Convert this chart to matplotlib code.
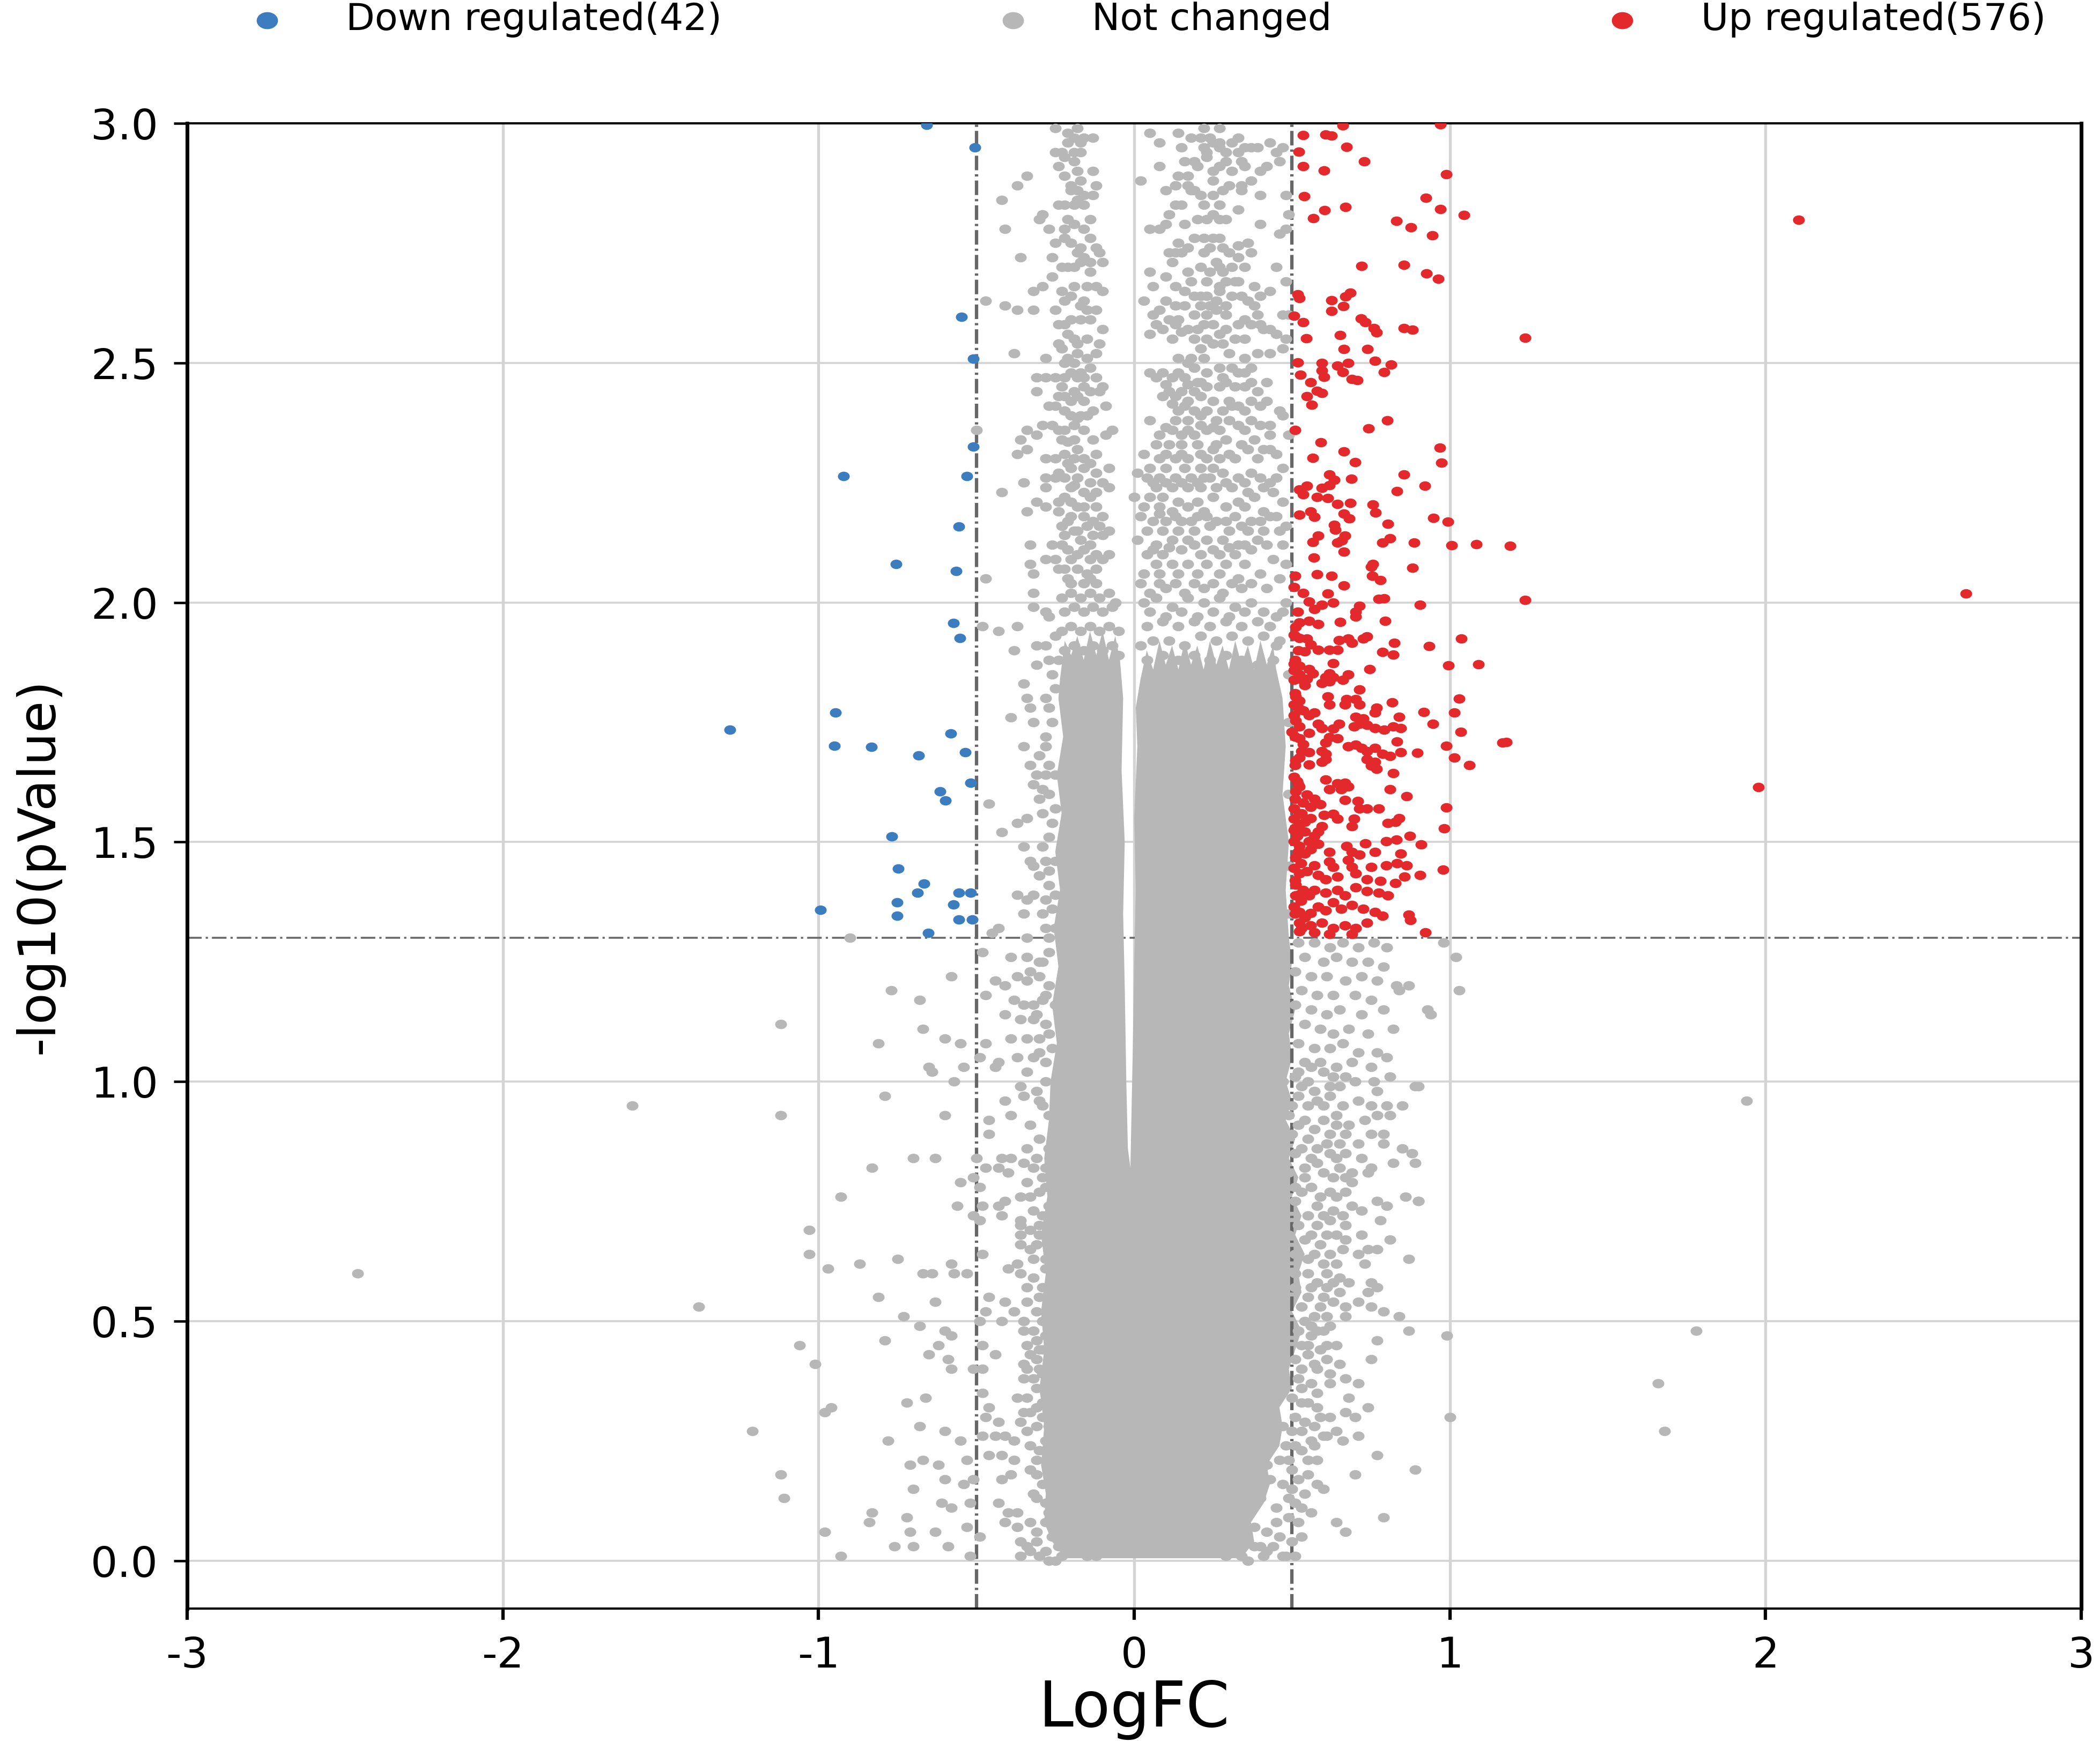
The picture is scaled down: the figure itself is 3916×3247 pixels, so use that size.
import numpy as np
import matplotlib
matplotlib.use("Agg")
import matplotlib.pyplot as plt
from matplotlib.path import Path
from matplotlib.transforms import Affine2D
from matplotlib.markers import MarkerStyle

plt.rcParams['font.family'] = ['DejaVu Sans']
plt.rcParams['axes.unicode_minus'] = False
plt.rcParams['lines.scale_dashes'] = False

# ---------------- data ----------------
x_ticks = [-3, -2, -1, 0, 1, 2, 3]
x_tick_labels = ['-3', '-2', '-1', '0', '1', '2', '3']
y_ticks = [0.0, 0.5, 1.0, 1.5, 2.0, 2.5, 3.0]
y_tick_labels = ['0.0', '0.5', '1.0', '1.5', '2.0', '2.5', '3.0']
fc_cut = [-0.5, 0.5]
p_cut = 1.3
legend_labels = ['Down regulated(42)', 'Not changed', 'Up regulated(576)']

down_pts = [(-0.658,2.997),(-0.505,2.950),(-0.547,2.596),(-0.509,2.509),(-0.509,2.325),(-0.921,2.264),
 (-0.530,2.264),(-0.556,2.158),(-0.755,2.080),(-0.564,2.066),(-0.573,1.957),(-0.552,1.926),(-1.281,1.734),
 (-0.946,1.770),(-0.950,1.701),(-0.832,1.698),(-0.581,1.726),(-0.535,1.687),(-0.683,1.681),(-0.518,1.623),
 (-0.615,1.606),(-0.598,1.586),(-0.768,1.511),(-0.747,1.444),(-0.666,1.413),(-0.687,1.394),(-0.556,1.394),
 (-0.518,1.394),(-0.751,1.374),(-0.573,1.369),(-0.993,1.358),(-0.751,1.346),(-0.556,1.338),(-0.513,1.338),
 (-0.653,1.310)]

up_pts = [(0.661,2.995),(0.970,2.998),(0.535,2.975),(0.607,2.977),(0.625,2.974),(0.672,2.951),(0.521,2.941),
 (0.729,2.921),(0.535,2.911),(0.601,2.902),(0.988,2.894),(0.539,2.848),(0.924,2.844),(0.670,2.825),(0.603,2.819),
 (0.970,2.821),(1.045,2.809),(0.568,2.802),(0.830,2.796),(0.876,2.783),(0.944,2.766),(0.721,2.702),(0.854,2.704),
 (0.925,2.687),(0.964,2.675),(0.518,2.643),(0.523,2.635),(0.625,2.631),(0.670,2.639),(0.684,2.646),(0.663,2.618),
 (0.625,2.608),(0.506,2.598),(0.718,2.593),(0.732,2.585),(0.760,2.573),(0.768,2.564),(0.535,2.585),(0.855,2.573),
 (0.881,2.569),(1.239,2.552),(0.545,2.551),(0.653,2.558),(0.664,2.529),(0.739,2.529),(0.518,2.501),(0.595,2.500),
 (0.643,2.494),(0.678,2.500),(0.762,2.504),(0.813,2.496),(0.661,2.481),(0.792,2.481),(0.595,2.484),(0.527,2.475),
 (0.601,2.471),(0.559,2.460),(0.690,2.466),(0.706,2.464),(0.547,2.430),(0.580,2.441),(0.595,2.437),(0.563,2.412),
 (0.801,2.380),(0.742,2.363),(0.509,2.360),(0.592,2.334),(0.968,2.323),(0.665,2.315),(0.565,2.302),(0.700,2.293),
 (0.973,2.292),(0.619,2.267),(0.854,2.267),(0.634,2.256),(0.688,2.258),(0.523,2.236),(0.547,2.243),(0.595,2.239),
 (0.619,2.245),(0.535,2.225),(0.580,2.220),(0.613,2.218),(0.833,2.232),(0.920,2.244),(0.643,2.205),(0.684,2.208),
 (0.756,2.204),(0.765,2.188),(0.523,2.183),(0.559,2.190),(0.571,2.179),(0.664,2.185),(0.681,2.175),(0.948,2.176),
 (0.994,2.168),(0.804,2.164),(0.633,2.162),(0.637,2.152),(0.583,2.139),(0.667,2.139),(0.658,2.129),(0.643,2.125),
 (0.565,2.126),(0.786,2.125),(0.810,2.134),(0.887,2.125),(1.006,2.119),(1.084,2.122),(1.191,2.118),
 (0.664,2.106),(0.569,2.094),(0.756,2.080),(0.750,2.074),(0.881,2.072),(0.509,2.055),(0.580,2.059),(0.625,2.055),
 (0.754,2.056),(0.780,2.046),(0.664,2.035),(0.506,2.032),(0.535,2.020),(0.613,2.018),(1.239,2.005),(0.774,2.007),
 (0.792,2.009),(0.553,2.002),(0.631,2.000),(0.595,1.995),(0.714,1.993),(0.905,1.995),(0.571,1.986),(0.518,1.981),
 (0.702,1.981),(0.702,1.970),(0.652,1.959),(0.795,1.961),(0.523,1.958),(0.553,1.961),(0.583,1.955),(0.512,1.949),
 (0.506,1.932),(0.523,1.926),(0.547,1.924),(0.559,1.912),(0.649,1.921),(0.678,1.924),(0.690,1.915),(0.726,1.924),
 (0.738,1.929),(0.824,1.915),(1.036,1.924),(0.935,1.909),(0.541,1.898),(0.583,1.901),(0.619,1.901),(0.643,1.901),
 (0.786,1.896),(0.820,1.891),(0.631,1.873),(0.506,1.872),(0.523,1.867),(0.995,1.868),(1.090,1.871),(0.553,1.861),
 (0.565,1.852),(0.746,1.861),(0.506,1.858),(0.523,1.850),(0.619,1.852),(0.607,1.844),(0.631,1.844),(0.678,1.850),
 (0.661,1.838),(0.506,1.838),(0.541,1.827),(0.547,1.841),(0.595,1.832),(0.619,1.835),(0.714,1.818),(0.512,1.804),
 (0.523,1.795),(0.506,1.787),(0.613,1.804),(0.619,1.787),(0.672,1.798),(0.667,1.787),(0.702,1.798),(0.714,1.787),
 (1.030,1.799),(0.817,1.791),(0.535,1.775),(0.553,1.764),(0.571,1.770),(0.768,1.780),(0.762,1.770),(0.917,1.771),
 (1.014,1.770),(0.506,1.764),(0.512,1.753),(0.523,1.741),(0.839,1.761),(0.702,1.761),(0.726,1.758),(0.714,1.747),
 (0.738,1.744),(0.696,1.741),(0.583,1.747),(0.595,1.738),(0.649,1.747),(0.631,1.736),(0.947,1.747),(0.762,1.738),
 (0.792,1.734),(0.821,1.741),(0.845,1.738),(0.500,1.730),(0.523,1.716),(0.553,1.727),(1.034,1.730),(0.619,1.719),
 (0.643,1.716),(0.607,1.707),(0.833,1.710),(1.167,1.707),(1.179,1.708),(0.535,1.704),(0.678,1.700),(0.702,1.703),
 (0.720,1.696),(0.988,1.701),(0.553,1.687),(0.595,1.690),(0.607,1.684),(0.738,1.690),(0.762,1.696),(0.786,1.684),
 (0.810,1.679),(0.845,1.687),(0.897,1.686),(0.523,1.676),(0.512,1.670),(0.607,1.673),(0.595,1.667),(0.738,1.673),
 (0.762,1.667),(0.750,1.659),(1.014,1.676),(0.553,1.662),(1.062,1.660),(0.768,1.653),(0.821,1.644),(0.506,1.636),
 (0.517,1.627),(0.523,1.616),(0.512,1.605),(0.607,1.630),(0.643,1.622),(0.667,1.624),(0.678,1.616),(0.619,1.610),
 (0.655,1.610),(0.810,1.610),(0.863,1.596),(0.547,1.599),(0.571,1.590),(0.535,1.582),(0.559,1.573),(0.667,1.588),
 (0.708,1.585),(0.589,1.579),(0.714,1.570),(0.738,1.570),(0.774,1.570),(0.988,1.572),(0.506,1.570),(0.523,1.559),
 (0.506,1.548),(0.523,1.536),(0.541,1.542),(0.559,1.550),(0.601,1.556),(0.631,1.559),(0.643,1.548),(0.696,1.548),
 (0.690,1.533),(0.804,1.539),(0.827,1.542),(0.839,1.550),(0.982,1.528),(0.595,1.533),(0.583,1.522),(0.571,1.513),
 (0.541,1.522),(0.506,1.525),(0.517,1.513),(0.506,1.502),(0.523,1.491),(0.553,1.502),(0.583,1.496),(0.559,1.485),
 (0.541,1.476),(0.732,1.497),(0.798,1.502),(0.831,1.505),(0.873,1.513),(0.909,1.495),(0.619,1.479),(0.672,1.491),
 (0.690,1.479),(0.714,1.474),(0.762,1.479),(0.845,1.476),(0.512,1.468),(0.529,1.456),(0.506,1.445),(0.523,1.434),
 (0.547,1.439),(0.571,1.451),(0.619,1.459),(0.631,1.448),(0.678,1.462),(0.690,1.448),(0.750,1.448),(0.798,1.451),
 (0.833,1.456),(0.863,1.451),(0.979,1.442),(0.905,1.431),(0.583,1.431),(0.607,1.422),(0.643,1.428),(0.702,1.434),
 (0.738,1.422),(0.780,1.419),(0.827,1.414),(0.857,1.428),(0.512,1.411),(0.535,1.400),(0.512,1.388),(0.529,1.377),
 (0.553,1.388),(0.571,1.400),(0.607,1.394),(0.643,1.400),(0.667,1.388),(0.702,1.405),(0.738,1.397),(0.774,1.394),
 (0.804,1.388),(0.506,1.365),(0.523,1.354),(0.541,1.343),(0.559,1.351),(0.583,1.365),(0.607,1.357),(0.631,1.374),
 (0.655,1.360),(0.690,1.368),(0.726,1.360),(0.762,1.354),(0.786,1.346),(0.869,1.348),(0.875,1.337),(0.523,1.331),
 (0.559,1.326),(0.595,1.331),(0.631,1.320),(0.667,1.326),(0.702,1.320),(0.523,1.314),(0.571,1.311),(0.619,1.308),
 (0.690,1.308),(0.738,1.331),(0.923,1.311),
 (2.104,2.799),(2.635,2.018),(1.977,1.614),
 (0.51,1.93),(0.52,1.90),(0.51,1.88),(0.53,1.84),(0.51,1.81),(0.52,1.78),(0.51,1.72),(0.53,1.69),(0.51,1.66),
 (0.52,1.62),(0.51,1.59),(0.53,1.56),(0.51,1.53),(0.52,1.48),(0.51,1.42),(0.52,1.39),(0.51,1.35),(0.53,1.32)]

# fully overlapped centre of the "Not changed" cloud (outline)
core_x = [-0.22, 0.34, 0.38, 0.37, 0.41, 0.43, 0.42, 0.46, 0.47, 0.46, 0.50, 0.49, 0.51, 0.53, 0.50, 0.53,
          0.52, 0.54, 0.51, 0.53, 0.50, 0.52, 0.49, 0.51, 0.48, 0.50, 0.48, 0.50, 0.49, 0.51, 0.49, 0.50,
          0.49, 0.48, 0.49, 0.47, 0.48, 0.47, 0.45,
          0.44, 0.42, 0.40, 0.38, 0.36, 0.34, 0.32, 0.30, 0.28, 0.26, 0.24, 0.22, 0.20, 0.18, 0.16, 0.14,
          0.12, 0.10, 0.08, 0.06, 0.04, 0.02,
          0.005, 0.01, 0.0, 0.005, 0.0, -0.005, -0.012,
          -0.02, -0.025, -0.03, -0.035, -0.03, -0.04, -0.035, -0.045,
          -0.06, -0.08, -0.10, -0.12, -0.14, -0.16, -0.18, -0.20, -0.22,
          -0.235, -0.24, -0.225, -0.245, -0.23, -0.25, -0.235, -0.255, -0.24, -0.26, -0.245, -0.265,
          -0.27, -0.285, -0.275, -0.295, -0.28, -0.295, -0.285, -0.30, -0.285, -0.295, -0.28, -0.285, -0.26]
core_y = [0.005, 0.005, 0.04, 0.08, 0.12, 0.16, 0.20, 0.24, 0.28, 0.32, 0.36, 0.40, 0.44, 0.48, 0.52, 0.56,
          0.60, 0.64, 0.68, 0.72, 0.76, 0.80, 0.84, 0.88, 0.92, 0.96, 1.00, 1.05, 1.10, 1.15, 1.20, 1.25,
          1.30, 1.40, 1.50, 1.60, 1.70, 1.80, 1.86,
          1.91, 1.87, 1.92, 1.86, 1.91, 1.87, 1.92, 1.86, 1.91, 1.87, 1.92, 1.86, 1.91, 1.87, 1.92, 1.86,
          1.91, 1.87, 1.92, 1.86, 1.90, 1.84,
          1.78, 1.70, 1.55, 1.40, 1.25, 1.05, 0.82,
          0.86, 1.00, 1.20, 1.35, 1.50, 1.65, 1.80, 1.88,
          1.93, 1.88, 1.94, 1.89, 1.94, 1.88, 1.93, 1.89, 1.92,
          1.84, 1.80, 1.72, 1.64, 1.56, 1.48, 1.40, 1.32, 1.24, 1.16, 1.08, 1.00,
          0.92, 0.84, 0.76, 0.68, 0.60, 0.52, 0.44, 0.36, 0.28, 0.20, 0.14, 0.08, 0.04]

gray_upper_left = [(-0.25,2.99),(-0.18,2.99),(-0.21,2.98),(-0.19,2.97),(-0.16,2.97),(-0.13,2.97),(-0.17,2.96),
 (-0.21,2.96),(-0.25,2.94),(-0.23,2.94),(-0.19,2.94),(-0.17,2.94),(-0.22,2.93),(-0.24,2.91),(-0.19,2.92),(-0.18,2.90),
 (-0.13,2.90),(-0.34,2.89),(-0.37,2.87),(-0.20,2.87),(-0.18,2.86),(-0.16,2.85),(-0.12,2.87),(-0.13,2.85),(-0.20,2.86),
 (-0.42,2.84),(-0.24,2.83),(-0.22,2.83),(-0.19,2.83),(-0.16,2.83),(-0.18,2.84),(-0.29,2.81),(-0.30,2.80),(-0.14,2.80),
 (-0.41,2.78),(-0.27,2.78),(-0.22,2.78),(-0.19,2.79),(-0.16,2.78),(-0.22,2.76),(-0.25,2.75),(-0.20,2.75),(-0.17,2.74),
 (-0.14,2.76),(-0.12,2.74),(-0.36,2.72),(-0.26,2.72),(-0.18,2.73),(-0.16,2.72),(-0.11,2.73),(-0.10,2.71),(-0.23,2.70),
 (-0.21,2.70),(-0.17,2.71),(-0.14,2.69),(-0.26,2.68),(-0.32,2.65),(-0.29,2.66),(-0.23,2.65),(-0.19,2.66),(-0.15,2.66),
 (-0.12,2.66),(-0.10,2.65),(-0.47,2.63),(-0.41,2.62),(-0.37,2.61),(-0.32,2.61),(-0.25,2.61),(-0.22,2.63),(-0.20,2.64),
 (-0.17,2.62),(-0.15,2.61),(-0.12,2.61),(-0.24,2.58),(-0.20,2.59),(-0.17,2.59),(-0.14,2.59),(-0.10,2.57),(-0.21,2.56),
 (-0.24,2.54),(-0.18,2.54),(-0.15,2.55),(-0.11,2.54),(-0.38,2.52),(-0.28,2.51),(-0.23,2.53),(-0.21,2.51),(-0.18,2.52),
 (-0.12,2.52),(-0.22,2.50),(-0.19,2.50),(-0.17,2.48),(-0.14,2.49),(-0.31,2.47),(-0.28,2.47),(-0.25,2.47),(-0.22,2.47),
 (-0.18,2.47),(-0.12,2.47),(-0.23,2.45),(-0.16,2.45),(-0.10,2.45),(-0.31,2.44),(-0.22,2.43),(-0.18,2.43),(-0.14,2.44),
 (-0.11,2.44),(-0.20,2.42),(-0.16,2.42),(-0.27,2.41),(-0.25,2.41),(-0.09,2.41),(-0.13,2.40),(-0.17,2.39),(-0.20,2.39),
 (-0.29,2.37),(-0.26,2.37),(-0.22,2.36),(-0.19,2.37),(-0.16,2.36),(-0.34,2.36),(-0.36,2.34),(-0.31,2.35),(-0.23,2.34),
 (-0.19,2.34),(-0.09,2.35),(-0.07,2.36),(-0.37,2.31),(-0.34,2.32),(-0.28,2.30),(-0.25,2.30),(-0.22,2.31),(-0.19,2.30),
 (-0.16,2.30),(-0.12,2.31),(-0.20,2.28),(-0.16,2.28),(-0.08,2.28),(-0.28,2.26),(-0.25,2.26),(-0.22,2.26),(-0.18,2.26),
 (-0.14,2.25),(-0.10,2.25),(-0.42,2.23),(-0.35,2.25),(-0.28,2.24),(-0.20,2.24),(-0.16,2.23),(-0.12,2.23),(-0.08,2.24),
 (-0.31,2.21),(-0.28,2.20),(-0.24,2.21),(-0.20,2.21),(-0.16,2.20),(-0.12,2.20),(-0.34,2.19),(-0.24,2.19),(-0.20,2.18),
 (-0.16,2.18),(-0.10,2.18),(-0.23,2.16),(-0.19,2.15),(-0.15,2.16),(-0.11,2.16),(-0.08,2.15),(-0.22,2.14),(-0.17,2.13),
 (-0.13,2.14),(-0.10,2.14),(-0.33,2.12),(-0.26,2.12),(-0.21,2.11),(-0.16,2.11),(-0.12,2.10),(-0.08,2.10),(-0.28,2.09),
 (-0.25,2.09),(-0.20,2.09),(-0.14,2.09),(-0.10,2.09),(-0.33,2.08),(-0.32,2.06),(-0.22,2.07),(-0.18,2.07),(-0.15,2.06),
 (-0.12,2.07),(-0.47,2.05),(-0.20,2.04),(-0.16,2.04),(-0.12,2.04),(-0.50,2.36),
 (-0.21,2.05),(-0.14,2.05),(-0.24,2.07),(-0.18,2.10),(-0.23,2.12),(-0.14,2.12),(-0.18,2.15),(-0.21,2.17),(-0.13,2.17),
 (-0.18,2.20),(-0.22,2.22),(-0.14,2.22),(-0.19,2.245),(-0.24,2.27),(-0.12,2.27),(-0.21,2.29),(-0.14,2.29),(-0.18,2.32),
 (-0.21,2.335),(-0.13,2.34),(-0.24,2.36),(-0.18,2.385),(-0.22,2.40),(-0.15,2.39),(-0.19,2.44),(-0.24,2.43),(-0.16,2.47),
 (-0.20,2.48),(-0.15,2.51),(-0.19,2.55),(-0.22,2.58),(-0.16,2.63),(-0.19,2.70),(-0.14,2.71),(-0.21,2.80),(-0.17,2.88),
 (-0.22,2.89),
 (-0.22,1.90),(-0.19,1.91),(-0.16,1.90),(-0.13,1.91),(-0.10,1.90),(-0.07,1.91),(-0.05,1.89),(-0.23,1.94),(-0.20,1.95),
 (-0.17,1.94),(-0.14,1.95),(-0.11,1.94),(-0.08,1.95),(-0.05,1.94),(-0.22,1.98),(-0.19,1.99),(-0.16,1.98),(-0.13,1.99),
 (-0.10,1.98),(-0.07,1.99),(-0.23,2.01),(-0.20,2.02),(-0.17,2.01),(-0.14,2.02),(-0.11,2.01),(-0.08,2.02),(-0.06,2.00)]

gray_upper_right = [(0.05,2.98),(0.08,2.96),(0.14,2.98),(0.22,2.99),(0.27,2.99),(0.21,2.97),(0.24,2.97),(0.27,2.96),
 (0.31,2.96),(0.35,2.95),(0.37,2.95),(0.39,2.95),(0.43,2.96),(0.47,2.95),(0.45,2.94),(0.15,2.95),(0.22,2.95),(0.27,2.95),
 (0.23,2.94),(0.29,2.94),(0.33,2.94),(0.16,2.92),(0.19,2.92),(0.23,2.93),(0.34,2.92),(0.42,2.91),(0.46,2.92),(0.35,2.91),
 (0.08,2.91),(0.25,2.90),(0.27,2.91),(0.31,2.90),(0.40,2.90),(0.14,2.89),(0.17,2.89),(0.02,2.88),(0.13,2.87),(0.17,2.87),
 (0.25,2.88),(0.34,2.87),(0.18,2.86),(0.28,2.86),(0.34,2.86),(0.10,2.86),(0.21,2.85),(0.40,2.85),(0.48,2.85),(0.25,2.85),
 (0.13,2.83),(0.15,2.83),(0.22,2.83),(0.27,2.83),(0.11,2.81),(0.16,2.79),(0.23,2.80),(0.27,2.80),(0.29,2.80),(0.49,2.81),
 (0.05,2.78),(0.08,2.78),(0.10,2.79),(0.40,2.79),(0.46,2.77),(0.48,2.78),(0.14,2.75),(0.19,2.76),(0.22,2.76),(0.25,2.76),
 (0.27,2.76),(0.36,2.75),(0.11,2.73),(0.13,2.73),(0.15,2.73),(0.22,2.73),(0.28,2.74),(0.30,2.73),(0.37,2.73),(0.12,2.71),
 (0.26,2.71),(0.33,2.72),(0.35,2.70),(0.05,2.69),(0.10,2.68),(0.24,2.69),(0.27,2.70),(0.28,2.69),(0.29,2.67),(0.32,2.67),
 (0.06,2.66),(0.13,2.66),(0.18,2.67),(0.23,2.67),(0.27,2.66),(0.33,2.67),(0.38,2.66),(0.43,2.65),(0.48,2.67),(0.03,2.63),
 (0.16,2.65),(0.19,2.64),(0.23,2.64),(0.27,2.65),(0.34,2.64),(0.36,2.63),(0.13,2.62),(0.16,2.62),(0.21,2.62),(0.24,2.62),
 (0.29,2.62),(0.38,2.62),(0.08,2.61),(0.06,2.60),(0.11,2.59),(0.14,2.59),(0.19,2.60),(0.23,2.60),(0.26,2.61),(0.29,2.60),
 (0.35,2.59),(0.39,2.60),(0.47,2.60),(0.49,2.60),(0.07,2.58),(0.13,2.58),(0.17,2.57),(0.22,2.58),(0.25,2.58),(0.33,2.58),
 (0.37,2.58),(0.41,2.57),(0.43,2.57),(0.05,2.56),(0.12,2.55),(0.19,2.55),(0.23,2.55),(0.27,2.56),(0.32,2.55),(0.35,2.55),
 (0.45,2.56),(0.48,2.55),(0.21,2.53),(0.25,2.54),(0.28,2.54),(0.39,2.52),(0.47,2.53),(0.18,2.51),(0.17,2.50),(0.19,2.49),
 (0.05,2.48),(0.09,2.48),(0.14,2.48),(0.23,2.48),(0.27,2.49),(0.31,2.49),(0.35,2.48),(0.37,2.49),(0.07,2.47),(0.12,2.47),
 (0.16,2.47),(0.20,2.46),(0.28,2.47),(0.33,2.48),(0.37,2.46),(0.11,2.44),(0.15,2.44),(0.19,2.44),(0.23,2.45),(0.27,2.45),
 (0.32,2.45),(0.35,2.45),(0.39,2.44),(0.09,2.43),(0.13,2.43),(0.17,2.42),(0.21,2.43),(0.30,2.42),(0.37,2.42),(0.42,2.42),
 (0.14,2.40),(0.19,2.40),(0.23,2.40),(0.28,2.40),(0.31,2.41),(0.35,2.40),(0.46,2.40),(0.47,2.39),(0.05,2.38),(0.13,2.38),
 (0.17,2.38),(0.21,2.39),(0.26,2.38),(0.30,2.38),(0.37,2.38),(0.43,2.37),(0.49,2.35),(0.08,2.35),(0.12,2.36),(0.15,2.35),
 (0.19,2.35),(0.23,2.36),(0.27,2.36),(0.33,2.37),(0.38,2.34),(0.43,2.35),(0.07,2.33),(0.11,2.33),(0.15,2.33),(0.20,2.33),
 (0.26,2.33),(0.29,2.34),(0.34,2.33),(0.41,2.32),(0.45,2.31),(0.08,2.30),(0.13,2.30),(0.17,2.30),(0.23,2.30),(0.27,2.30),
 (0.32,2.30),(0.39,2.30),(0.05,2.28),(0.10,2.28),(0.16,2.28),(0.21,2.28),(0.25,2.28),(0.28,2.27),(0.37,2.27),(0.47,2.28),
 (0.01,2.27),(0.04,2.26),(0.08,2.26),(0.13,2.26),(0.18,2.26),(0.22,2.26),(0.33,2.26),(0.40,2.26),(0.45,2.26),(0.07,2.24),
 (0.12,2.24),(0.17,2.24),(0.21,2.24),(0.26,2.24),(0.31,2.24),(0.36,2.23),(0.41,2.24),(0.00,2.22),(0.05,2.22),(0.09,2.22),
 (0.14,2.21),(0.20,2.21),(0.25,2.22),(0.33,2.21),(0.38,2.22),(0.44,2.23),(0.03,2.20),(0.08,2.20),(0.12,2.19),(0.17,2.20),
 (0.22,2.19),(0.29,2.20),(0.35,2.20),(0.41,2.19),(0.47,2.21),(0.06,2.17),(0.10,2.17),(0.15,2.17),(0.20,2.18),(0.26,2.17),
 (0.32,2.18),(0.37,2.17),(0.43,2.18),(0.48,2.16),(0.04,2.15),(0.09,2.15),(0.14,2.15),(0.19,2.15),(0.24,2.16),(0.30,2.15),
 (0.36,2.15),(0.41,2.15),(0.46,2.15),(0.01,2.13),(0.07,2.12),(0.12,2.13),(0.17,2.13),(0.23,2.13),(0.28,2.13),(0.33,2.12),
 (0.39,2.13),(0.04,2.10),(0.09,2.10),(0.15,2.11),(0.21,2.10),(0.27,2.10),(0.32,2.10),(0.37,2.11),(0.44,2.09),(0.07,2.08),
 (0.12,2.08),(0.17,2.08),(0.23,2.08),(0.29,2.08),(0.35,2.08),(0.48,2.08),(0.03,2.06),(0.08,2.06),(0.14,2.06),(0.20,2.06),
 (0.27,2.06),(0.33,2.05),(0.40,2.06),(0.02,2.04),(0.08,2.04),(0.13,2.04),(0.19,2.04),(0.25,2.04),(0.31,2.04),(0.37,2.04),
 (0.03,2.00),(0.07,2.01),(0.12,1.99),(0.17,2.01),(0.22,2.00),(0.27,2.01),(0.32,1.99),(0.37,2.00),(0.41,1.98),(0.45,1.97),
 (0.48,2.00),(0.46,1.92),(0.49,1.85),(0.49,1.75),(0.49,1.60),(0.49,1.45),(0.49,1.35),
 (0.05,2.02),(0.10,2.03),(0.16,2.02),(0.22,2.03),(0.28,2.02),(0.34,2.03),(0.42,2.03),(0.46,2.05),(0.06,2.11),(0.11,2.115),
 (0.19,2.12),(0.25,2.11),(0.30,2.115),(0.35,2.12),(0.42,2.12),(0.47,2.12),(0.02,2.18),(0.08,2.185),(0.13,2.18),(0.18,2.17),
 (0.23,2.18),(0.29,2.17),(0.34,2.16),(0.40,2.17),(0.45,2.18),(0.06,2.25),(0.10,2.25),(0.15,2.25),(0.20,2.25),(0.24,2.26),
 (0.29,2.25),(0.35,2.25),(0.43,2.25),(0.03,2.31),(0.10,2.31),(0.15,2.31),(0.21,2.31),(0.25,2.32),(0.30,2.31),(0.36,2.32),
 (0.43,2.32),(0.10,2.365),(0.17,2.36),(0.21,2.37),(0.25,2.365),(0.35,2.36),(0.40,2.37),(0.12,2.415),(0.16,2.41),(0.25,2.42),
 (0.33,2.41),(0.40,2.41),(0.10,2.455),(0.17,2.455),(0.21,2.46),(0.29,2.46),(0.42,2.46),(0.14,2.51),(0.22,2.51),(0.30,2.52),
 (0.35,2.51),(0.43,2.52),(0.09,2.57),(0.15,2.565),(0.20,2.57),(0.29,2.57),(0.40,2.58),(0.10,2.63),(0.21,2.64),(0.26,2.63),
 (0.31,2.64),(0.40,2.64),(0.17,2.69),(0.21,2.70),(0.31,2.70),(0.45,2.70),(0.17,2.74),(0.24,2.74),(0.33,2.745),(0.20,2.80),
 (0.25,2.81),(0.33,2.82),(0.19,2.86),(0.30,2.87),(0.37,2.88),(0.20,2.91),(0.29,2.92),(0.25,2.96),(0.33,2.97),(0.18,2.97),
 (0.04,1.88),(0.09,1.89),(0.14,1.88),(0.19,1.89),(0.24,1.88),(0.29,1.89),(0.34,1.88),(0.39,1.87),(0.44,1.88),(0.02,1.91),
 (0.06,1.92),(0.11,1.92),(0.16,1.91),(0.21,1.93),(0.26,1.92),(0.31,1.93),(0.36,1.92),(0.41,1.93),(0.45,1.91),(0.04,1.95),
 (0.09,1.96),(0.14,1.95),(0.19,1.96),(0.24,1.95),(0.29,1.96),(0.34,1.95),(0.39,1.96),(0.43,1.95),(0.05,1.98),(0.10,1.97),
 (0.15,1.98),(0.20,1.97),(0.25,1.98),(0.30,1.97),(0.35,1.98),(0.47,1.98)]

gray_left_fringe = [(-0.32,2.02),(-0.32,1.99),(-0.28,1.98),(-0.48,1.95),(-0.43,1.94),(-0.37,1.95),(-0.38,1.90),
 (-0.31,1.91),(-0.28,1.91),(-0.25,1.93),(-0.31,1.87),(-0.27,1.88),(-0.24,1.88),(-0.35,1.83),(-0.34,1.80),(-0.28,1.80),
 (-0.33,1.78),(-0.25,1.82),(-0.39,1.76),(-0.32,1.75),(-0.26,1.75),(-0.35,1.70),(-0.30,1.68),(-0.28,1.70),(-0.33,1.66),
 (-0.31,1.64),(-0.32,1.62),(-0.28,1.64),(-0.25,1.64),(-0.46,1.58),(-0.30,1.59),(-0.27,1.60),(-0.25,1.57),(-0.42,1.52),
 (-0.37,1.54),(-0.34,1.55),(-0.29,1.56),(-0.26,1.54),(-0.35,1.49),(-0.33,1.46),(-0.32,1.45),(-0.28,1.46),(-0.25,1.46),
 (-0.30,1.43),(-0.27,1.41),(-0.25,1.39),(-0.37,1.39),(-0.34,1.38),(-0.32,1.39),(-0.35,1.35),(-0.29,1.35),(-0.26,1.36),
 (-0.43,1.32),(-0.45,1.31),(-0.34,1.30),(-0.28,1.32),(-0.25,1.32),(-0.48,1.27),(-0.39,1.26),(-0.34,1.26),(-0.30,1.25),
 (-0.27,1.27),(-0.58,1.22),(-0.44,1.21),(-0.41,1.20),(-0.37,1.22),(-0.34,1.21),(-0.30,1.22),(-0.27,1.20),(-0.68,1.17),
 (-0.47,1.18),(-0.38,1.17),(-0.35,1.16),(-0.32,1.16),(-0.29,1.17),(-0.25,1.16),(-0.41,1.14),(-0.36,1.13),(-0.32,1.13),
 (-0.28,1.12),(-0.60,1.09),(-0.55,1.08),(-0.47,1.08),(-0.39,1.09),(-0.34,1.09),(-0.30,1.09),(-0.26,1.07),(-0.49,1.05),
 (-0.43,1.04),(-0.37,1.05),(-0.32,1.05),(-0.28,1.04),(-0.65,1.03),(-0.44,1.03),(-0.54,1.03),
 (-0.27,1.97),(-0.26,1.85),(-0.27,1.78),(-0.28,1.72),(-0.27,1.66),(-0.29,1.61),(-0.27,1.51),(-0.29,1.49),(-0.27,1.44),
 (-0.28,1.38),(-0.27,1.30),
 (-0.64,1.02),(-0.57,1.00),(-0.36,0.99),(-0.35,0.97),(-0.79,0.97),(-0.41,0.96),(-0.60,0.93),(-0.39,0.93),(-0.46,0.92),
 (-0.30,0.96),(-0.46,0.89),(-0.29,0.95),(-0.70,0.84),(-0.63,0.84),(-0.50,0.84),(-0.42,0.84),(-0.39,0.84),(-0.43,0.82),
 (-0.40,0.81),(-0.35,0.83),(-0.32,0.82),(-0.47,0.82),(-0.55,0.79),(-0.51,0.80),(-0.49,0.78),(-0.33,0.76),(-0.29,0.80),
 (-0.28,0.78),(-0.56,0.74),(-0.48,0.74),(-0.43,0.74),(-0.41,0.75),(-0.36,0.76),(-0.51,0.72),(-0.49,0.71),(-0.42,0.72),
 (-0.36,0.71),(-0.32,0.73),(-0.27,0.74),(-0.36,0.70),(-0.30,0.70),(-0.26,0.70),(-0.36,0.68),(-0.30,0.68),(-0.26,0.68),
 (-0.36,0.66),(-0.33,0.65),(-0.27,0.65),(-0.48,0.64),(-0.75,0.63),(-0.67,0.60),(-0.64,0.60),(-0.58,0.62),(-0.57,0.60),
 (-0.53,0.60),(-0.40,0.61),(-0.37,0.62),(-0.36,0.60),(-0.32,0.59),(-0.26,0.60),(-0.32,0.63),(-0.28,0.63),(-0.24,0.63),
 (-0.29,0.57),(-0.25,0.57),(-0.46,0.55),(-0.63,0.54),(-0.41,0.54),(-0.38,0.52),(-0.34,0.54),(-0.28,0.55),(-0.25,0.54),
 (-0.31,0.52),(-0.26,0.51),(-0.73,0.51),(-0.49,0.50),(-0.42,0.50),(-0.47,0.52),(-0.35,0.50),(-0.29,0.50),(-0.25,0.49),
 (-0.79,0.46),(-0.68,0.49),(-0.60,0.48),(-0.58,0.47),(-0.62,0.45),(-0.65,0.43),(-0.59,0.42),(-0.58,0.40),(-0.51,0.40),
 (-0.48,0.40),(-0.44,0.43),(-0.48,0.45),(-0.35,0.48),(-0.31,0.46),(-0.28,0.47),(-0.25,0.46),(-0.34,0.45),(-0.30,0.44),
 (-0.35,0.41),(-0.31,0.42),(-0.26,0.42),(-0.34,0.40),(-0.29,0.39),(-0.35,0.38),(-0.31,0.36),(-0.26,0.37),(-0.48,0.35),
 (-0.37,0.34),(-0.34,0.34),(-0.29,0.33),(-0.25,0.34),(-0.66,0.34),(-0.72,0.33),(-0.46,0.32),(-0.35,0.31),(-0.31,0.32),
 (-0.26,0.31),(-0.68,0.28),(-0.60,0.27),(-0.47,0.30),(-0.43,0.29),(-0.36,0.29),(-0.31,0.28),(-0.27,0.28),(-0.23,0.28),
 (-0.78,0.25),(-0.55,0.25),(-0.48,0.26),(-0.44,0.26),(-0.41,0.26),(-0.38,0.25),(-0.33,0.24),(-0.28,0.25),(-0.24,0.26),
 (-0.67,0.21),(-0.62,0.20),(-0.71,0.20),(-0.53,0.21),(-0.46,0.22),(-0.42,0.22),(-0.38,0.21),(-0.31,0.21),(-0.25,0.21),
 (-0.21,0.22),(-0.60,0.17),(-0.54,0.16),(-0.70,0.15),(-0.51,0.17),(-0.42,0.17),(-0.39,0.18),(-0.31,0.18),(-0.26,0.18),
 (-0.23,0.18),(-0.61,0.12),(-0.58,0.11),(-0.52,0.12),(-0.43,0.12),(-0.40,0.10),(-0.37,0.10),(-0.31,0.13),(-0.28,0.12),
 (-0.23,0.13),(-0.19,0.14),(-0.72,0.09),(-0.53,0.07),(-0.63,0.06),(-0.71,0.06),(-0.41,0.08),(-0.37,0.07),(-0.33,0.08),
 (-0.28,0.08),(-0.24,0.08),(-0.18,0.10),(-0.59,0.03),(-0.76,0.03),(-0.70,0.03),(-0.52,0.01),(-0.49,0.05),(-0.36,0.04),
 (-0.34,0.03),(-0.31,0.04),(-0.28,0.02),(-0.24,0.03),(-0.20,0.04),(-0.36,0.01),(-0.27,0.00),(-0.23,0.01),(-0.15,0.01),
 (-0.12,0.01),
 (-0.29,1.25),(-0.33,1.23),(-0.28,1.18),(-0.31,1.14),(-0.27,1.10),(-0.30,1.06),(-0.34,1.02),(-0.28,1.00),(-0.31,0.98),
 (-0.27,0.93),(-0.33,0.91),(-0.30,0.88),(-0.27,0.86),(-0.34,0.86),(-0.31,0.84),(-0.28,0.82),(-0.30,0.77),(-0.34,0.79),
 (-0.29,0.72),(-0.33,0.69),(-0.31,0.66),(-0.28,0.61),(-0.34,0.57),(-0.30,0.55),(-0.32,0.48),(-0.29,0.44),(-0.33,0.43),
 (-0.30,0.40),(-0.32,0.38),(-0.28,0.35),(-0.33,0.31),(-0.29,0.30),(-0.34,0.27),(-0.30,0.23),(-0.27,0.21),(-0.33,0.19),
 (-0.29,0.16),(-0.26,0.15),(-0.32,0.14),(-0.27,0.10),(-0.31,0.06),(-0.26,0.05),(-0.33,0.02),(-0.30,0.01),(-0.25,0.00)]

gray_right_fringe = [(0.47,1.00),(0.51,1.01),(0.55,1.00),(0.60,1.02),(0.62,0.99),(0.67,1.01),(0.70,1.00),(0.76,1.00),
 (0.81,1.01),(0.77,0.98),(0.89,0.99),(0.52,0.97),(0.58,0.96),(0.62,0.97),(0.66,0.95),(0.71,0.96),(0.75,0.95),(0.80,0.95),
 (0.85,0.95),(0.49,0.93),(0.54,0.92),(0.60,0.92),(0.64,0.91),(0.68,0.91),(0.73,0.92),(0.77,0.93),(0.81,0.93),(0.50,0.89),
 (0.55,0.88),(0.61,0.87),(0.65,0.87),(0.71,0.87),(0.75,0.89),(0.79,0.89),(0.79,0.87),(0.51,0.85),(0.56,0.84),(0.62,0.85),
 (0.67,0.85),(0.72,0.84),(0.75,0.82),(0.85,0.86),(0.88,0.85),(0.89,0.83),(0.82,0.83),(0.49,0.81),(0.54,0.80),(0.60,0.81),
 (0.65,0.82),(0.69,0.81),(0.74,0.81),(0.51,0.78),(0.56,0.78),(0.62,0.77),(0.67,0.77),(0.69,0.79),(0.51,0.75),(0.58,0.74),
 (0.63,0.73),(0.69,0.74),(0.72,0.73),(0.77,0.75),(0.80,0.74),(0.86,0.76),(0.90,0.75),(0.52,0.70),(0.58,0.70),(0.62,0.71),
 (0.67,0.70),(0.78,0.71),(0.49,0.68),(0.54,0.67),(0.59,0.66),(0.64,0.68),(0.72,0.68),(0.81,0.67),(0.51,0.64),(0.55,0.63),
 (0.62,0.64),(0.66,0.65),(0.71,0.64),(0.74,0.65),(0.77,0.65),(0.87,0.63),(0.51,0.60),(0.55,0.60),(0.61,0.60),(0.65,0.59),
 (0.68,0.58),(0.73,0.62),(0.75,0.58),(0.51,0.57),(0.56,0.57),(0.61,0.57),(0.65,0.56),(0.74,0.56),(0.77,0.57),(0.53,0.53),
 (0.59,0.53),(0.63,0.54),(0.67,0.53),(0.71,0.54),(0.75,0.53),(0.79,0.52),(0.84,0.51),(0.54,0.50),(0.58,0.48),(0.62,0.49),
 (0.67,0.51),(0.87,0.48),(0.56,0.47),(0.60,0.48),(0.53,0.45),(0.61,0.45),(0.64,0.45),(0.77,0.46),(0.55,0.43),(0.61,0.42),
 (0.65,0.41),(0.75,0.42),(0.53,0.40),(0.58,0.40),(0.62,0.39),(0.67,0.38),(0.71,0.37),(0.53,0.36),(0.58,0.35),(0.62,0.37),
 (0.68,0.34),(0.53,0.33),(0.58,0.32),(0.67,0.31),(0.74,0.32),(0.54,0.29),(0.59,0.30),(0.62,0.30),(0.70,0.30),(0.53,0.27),
 (0.60,0.26),(0.64,0.27),(0.71,0.26),(0.56,0.25),(0.61,0.26),(0.66,0.25),(0.51,0.24),(0.55,0.21),(0.58,0.21),(0.77,0.22),
 (0.52,0.17),(0.58,0.16),(0.60,0.15),(0.70,0.18),(0.89,0.19),(0.51,0.12),(0.56,0.10),(0.53,0.11),(0.64,0.08),(0.67,0.06),
 (0.79,0.09),(0.53,0.05),(0.48,0.01),(0.42,0.02),(0.45,0.08),(0.40,0.03),
 (0.32,0.23),(0.35,0.21),(0.38,0.22),(0.42,0.20),(0.46,0.21),(0.49,0.21),(0.30,0.17),(0.35,0.16),(0.39,0.16),(0.43,0.17),
 (0.47,0.16),(0.32,0.12),(0.36,0.11),(0.40,0.13),(0.45,0.11),(0.49,0.13),(0.29,0.08),(0.34,0.08),(0.38,0.07),(0.42,0.06),
 (0.29,0.03),(0.35,0.04),(0.38,0.03),(0.41,0.01),(0.29,0.01),(0.34,0.01),(0.47,0.01),(0.36,0.00),(0.39,0.31),(0.43,0.31),
 (0.47,0.28),(0.48,0.24),(0.42,0.26),
 (0.52,1.29),(0.57,1.29),(0.62,1.28),(0.66,1.29),(0.71,1.28),(0.76,1.29),(0.80,1.28),(0.54,1.26),(0.60,1.25),(0.64,1.26),
 (0.69,1.25),(0.74,1.25),(0.79,1.24),(0.51,1.23),(0.56,1.22),(0.61,1.22),(0.67,1.21),(0.72,1.22),(0.77,1.21),(0.83,1.20),
 (0.53,1.19),(0.58,1.18),(0.63,1.18),(0.70,1.18),(0.75,1.17),(0.51,1.16),(0.56,1.15),(0.61,1.14),(0.65,1.15),(0.72,1.14),
 (0.79,1.15),(0.54,1.12),(0.59,1.11),(0.63,1.10),(0.68,1.11),(0.74,1.10),(0.82,1.11),(0.52,1.08),(0.57,1.07),(0.62,1.07),
 (0.66,1.08),(0.71,1.06),(0.77,1.06),(0.54,1.04),(0.59,1.04),(0.64,1.03),(0.69,1.04),(0.75,1.03),(0.80,1.05),
 (0.52,1.02),(0.56,1.03),(0.63,1.01),(0.53,0.99),(0.57,0.98),(0.65,0.99),(0.50,0.95),(0.55,0.95),(0.60,0.95),(0.64,0.93),
 (0.52,0.91),(0.57,0.90),(0.62,0.89),(0.67,0.89),(0.53,0.86),(0.58,0.86),(0.64,0.84),(0.54,0.82),(0.58,0.83),(0.63,0.80),
 (0.67,0.80),(0.53,0.77),(0.59,0.76),(0.64,0.76),(0.55,0.72),(0.60,0.72),(0.66,0.72),(0.56,0.68),(0.61,0.68),(0.67,0.67),
 (0.57,0.64),(0.60,0.62),(0.64,0.62),(0.58,0.58),(0.63,0.58),(0.55,0.55),(0.60,0.55),(0.57,0.51),(0.61,0.51),(0.52,0.48),
 (0.56,0.49),(0.55,0.45),(0.59,0.44),(0.51,0.42),(0.57,0.41),(0.52,0.38),(0.56,0.37),(0.50,0.34),(0.55,0.33),(0.51,0.30),
 (0.57,0.28),(0.50,0.27),(0.53,0.23),(0.57,0.24),(0.50,0.19),(0.55,0.18),(0.50,0.15),(0.54,0.14),(0.49,0.09),(0.52,0.08),
 (0.46,0.05),(0.50,0.04),(0.44,0.03),(0.51,0.01)]

gray_outliers = [(-2.46,0.60),(-1.59,0.95),(-1.38,0.53),(-1.12,1.12),(-1.12,0.93),(-1.21,0.27),(-1.12,0.18),
 (-1.11,0.13),(-1.03,0.64),(-1.03,0.69),(-1.06,0.45),(-1.01,0.41),(-0.97,0.61),(-0.96,0.32),(-0.98,0.31),(-0.98,0.06),
 (-0.93,0.01),(-0.93,0.76),(-0.90,1.30),(-0.87,0.62),(-0.83,0.82),(-0.81,1.08),(-0.81,0.55),(-0.83,0.10),(-0.84,0.08),
 (-0.77,1.19),(-0.67,1.11),(0.99,0.47),(1.00,0.30),(1.94,0.96),(1.78,0.48),(1.66,0.37),(1.68,0.27),(0.98,1.29),
 (1.02,1.26),(1.03,1.19),(0.93,1.15),(0.94,1.14),(0.87,1.20),(0.84,1.19),(0.90,0.99),(0.90,0.75)]

# ---------------- style ----------------
BLUE = '#3C7DBF'
GRAY = '#B7B7B7'
RED = '#E4292D'
LINE = '#666666'
GRID = '#D4D4D4'

ell = Path.unit_circle().transformed(Affine2D().scale(1.0, 1.0 / 1.25))
mk = MarkerStyle(ell)

fig = plt.figure(figsize=(3916 / 300, 3247 / 300), dpi=300)
ax = fig.add_axes([349 / 3916, 1 - 3000 / 3247, (3881 - 349) / 3916, (3000 - 230) / 3247])

ax.set_xlim(-3, 3)
ax.set_ylim(-0.1, 3.0)
ax.set_xticks(x_ticks)
ax.set_xticklabels(x_tick_labels)
ax.set_yticks(y_ticks)
ax.set_yticklabels(y_tick_labels)
ax.set_axisbelow(True)
ax.grid(True, axis='x', color=GRID, linewidth=1.3)
ax.grid(True, axis='y', color=GRID, linewidth=0.9)

dash = (0, (6.5, 1.8, 1.0, 1.8))
for v in fc_cut:
    ax.axvline(v, color=LINE, linewidth=1.5, linestyle=dash, zorder=2.5)
ax.axhline(p_cut, color=LINE, linewidth=0.85, linestyle=dash, zorder=1.5)

ax.fill(core_x, core_y, color=GRAY, linewidth=0, zorder=2)

gray_all = gray_upper_left + gray_upper_right + gray_left_fringe + gray_right_fringe + gray_outliers
gx, gy = zip(*gray_all)
dx, dy = zip(*down_pts)
ux, uy = zip(*up_pts)

S = 28
sc_gray = ax.scatter(gx, gy, s=S, marker=mk, c=GRAY, linewidths=0, zorder=3)
sc_down = ax.scatter(dx, dy, s=S, marker=mk, c=BLUE, linewidths=0, zorder=4)
sc_up = ax.scatter(ux, uy, s=S, marker=mk, c=RED, linewidths=0, zorder=4)

for side in ['left', 'right']:
    ax.spines[side].set_linewidth(1.7)
for side in ['top', 'bottom']:
    ax.spines[side].set_linewidth(1.0)
for s in ax.spines.values():
    s.set_color('black')

ax.tick_params(axis='x', direction='out', length=5, width=1.5, pad=7, labelsize=19, top=False, colors='black')
ax.tick_params(axis='y', direction='out', length=6, width=1.1, pad=7, labelsize=19, right=False, colors='black')

ax.set_xlabel('LogFC', fontsize=28, labelpad=1)
ax.set_ylabel('-log10(pValue)', fontsize=23, labelpad=12)

fig.legend(handles=[sc_down, sc_gray, sc_up], labels=legend_labels, ncol=3, loc='center left',
           bbox_to_anchor=(463 / 3916, 1 - 37 / 3247), frameon=False, fontsize=16.8,
           handlelength=1.0, handletextpad=1.6, columnspacing=7.25, markerscale=1.8,
           borderpad=0, borderaxespad=0, scatterpoints=1)

fig.savefig('out.png', dpi=300)
